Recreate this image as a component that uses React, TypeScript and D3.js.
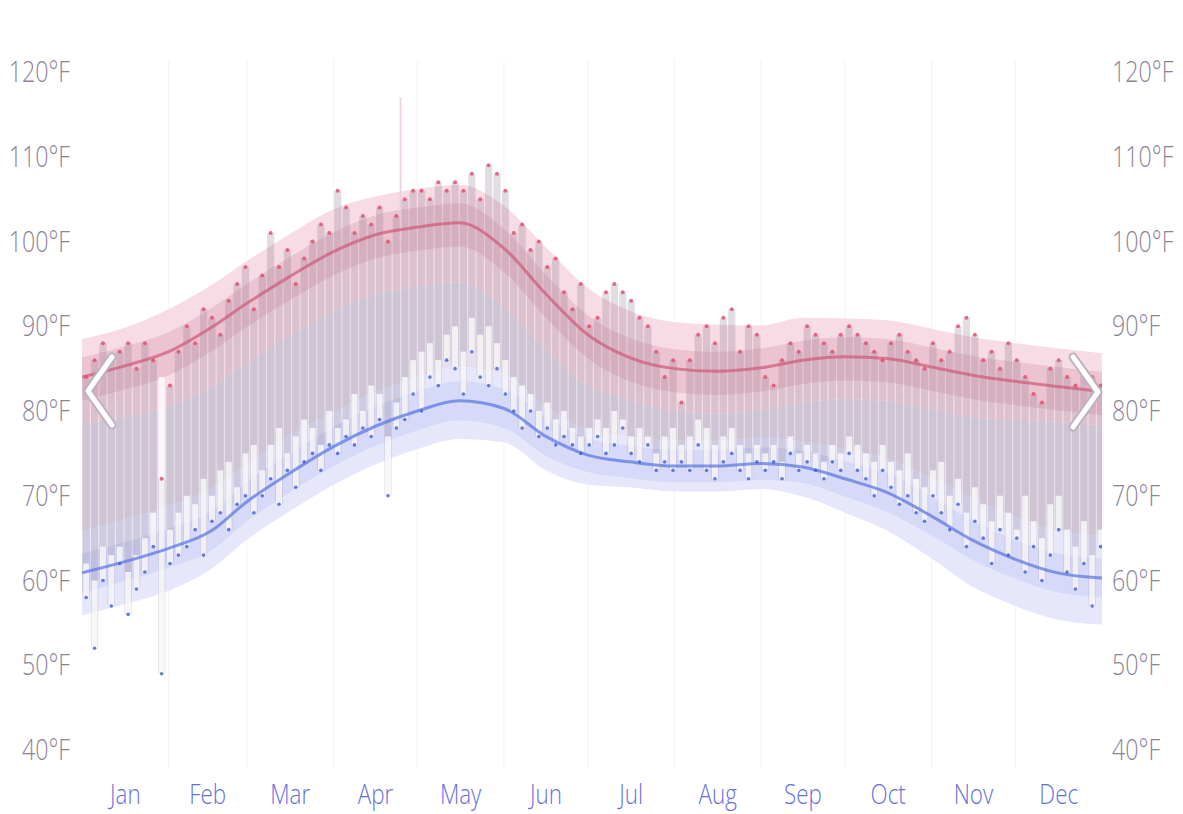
import React from 'react';
import * as d3 from 'd3';

const MONTHS = ['Jan', 'Feb', 'Mar', 'Apr', 'May', 'Jun', 'Jul', 'Aug', 'Sep', 'Oct', 'Nov', 'Dec'];
const MONTH_STARTS = [0, 31, 59, 90, 120, 151, 181, 212, 243, 273, 304, 334, 365];
const TEMP_TICKS = [40, 50, 60, 70, 80, 90, 100, 110, 120];

const SAMPLE_DAYS = [0, 15, 31, 46, 59, 74, 90, 105, 120, 135, 151, 166, 181, 196, 212, 227, 243, 258, 273, 288, 304, 319, 334, 349, 365];
const HIGH_MEAN = [84.0, 85.3, 87.0, 89.8, 92.7, 95.8, 98.8, 100.8, 101.7, 102.2, 99.2, 93.8, 89.0, 86.3, 85.0, 84.7, 85.1, 86.0, 86.4, 86.2, 85.2, 84.2, 83.5, 82.9, 82.3];
const HIGH_P90 = [88.5, 89.8, 92.0, 94.8, 97.7, 100.8, 103.8, 105.3, 106.2, 106.7, 104.2, 99.3, 94.5, 91.8, 90.5, 90.2, 90.1, 91.0, 90.9, 90.7, 89.7, 88.7, 88.0, 87.4, 86.8];
const HIGH_P75 = [86.3, 87.6, 89.3, 92.1, 95.0, 98.1, 101.1, 103.1, 104.0, 104.5, 101.5, 96.1, 91.3, 88.6, 87.3, 87.0, 87.4, 88.3, 88.7, 88.5, 87.5, 86.5, 85.8, 85.2, 84.6];
const HIGH_P25 = [81.2, 82.5, 84.2, 87.0, 89.9, 93.0, 96.0, 98.0, 98.9, 99.4, 96.4, 91.0, 86.2, 83.5, 82.2, 81.9, 82.3, 83.2, 83.6, 83.4, 82.4, 81.4, 80.7, 80.1, 79.5];
const HIGH_P10 = [78.5, 79.3, 80.5, 82.8, 85.7, 88.8, 91.8, 93.8, 94.7, 95.2, 92.2, 87.3, 83.0, 81.3, 80.0, 79.7, 80.1, 81.0, 81.4, 81.2, 80.2, 79.2, 79.0, 78.7, 78.3];
const LOW_MEAN = [60.9, 62.2, 63.8, 65.8, 69.3, 72.6, 75.8, 78.2, 80.0, 81.2, 80.3, 77.0, 74.8, 74.0, 73.5, 73.5, 73.8, 73.4, 72.0, 70.4, 67.6, 64.7, 62.5, 60.9, 60.3];
const LOW_P90 = [65.9, 67.2, 68.8, 70.8, 73.8, 77.1, 79.8, 82.2, 84.0, 85.2, 84.3, 80.5, 77.8, 77.0, 76.5, 76.5, 76.8, 76.4, 75.5, 74.4, 72.1, 69.7, 67.5, 65.9, 65.3];
const LOW_P75 = [63.2, 64.5, 66.1, 68.1, 71.6, 74.9, 78.1, 80.5, 82.3, 83.5, 82.6, 79.3, 76.8, 75.9, 75.4, 75.4, 75.7, 75.3, 74.1, 72.7, 69.9, 67.0, 64.8, 63.2, 62.6];
const LOW_P25 = [58.6, 59.9, 61.5, 63.5, 67.0, 70.3, 73.5, 75.9, 77.7, 78.9, 78.0, 74.7, 72.8, 72.1, 71.6, 71.6, 71.9, 71.5, 69.9, 68.1, 65.3, 62.4, 60.2, 58.6, 58.0];
const LOW_P10 = [55.9, 57.2, 58.8, 61.3, 64.8, 68.1, 71.3, 73.7, 75.5, 76.7, 76.3, 73.0, 71.3, 71.0, 70.5, 70.5, 70.8, 69.9, 68.0, 65.9, 62.6, 59.2, 57.0, 55.4, 54.8];

// observed values, one entry every 3 days
const DAILY_HIGH = [
  84, 86, 88, 86, 87, 88, 85, 88, 86, 72, 83,
  87, 90, 88, 92, 91, 89, 93, 95, 97, 92,
  96, 101, 97, 99, 95, 98, 100, 102, 101, 106,
  104, 101, 103, 102, 104, 100, 103, 105, 106, 106,
  105, 107, 106, 107, 106, 108, 105, 109, 108, 106,
  101, 102, 99, 100, 97, 98, 94, 92, 95, 90,
  91, 94, 95, 94, 93, 91, 90, 87, 84, 86,
  81, 86, 89, 90, 88, 91, 92, 87, 90, 89,
  84, 83, 86, 88, 87, 90, 89, 88, 87, 89,
  90, 89, 88, 87, 86, 88, 89, 87, 86, 85,
  88, 86, 87, 90, 91, 89, 86, 87, 85, 88, 86,
  84, 82, 81, 85, 86, 84, 83, 85, 84, 83,
];
const DAILY_LOW = [
  58, 52, 60, 57, 62, 56, 59, 61, 64, 49, 62,
  63, 64, 66, 63, 67, 68, 66, 69, 70, 68,
  70, 72, 69, 73, 71, 74, 75, 73, 76, 75,
  77, 76, 78, 77, 79, 70, 78, 79, 82, 80,
  84, 83, 86, 85, 82, 87, 84, 83, 85, 82,
  80, 78, 80, 77, 78, 76, 77, 76, 75, 76,
  77, 75, 76, 78, 75, 74, 76, 73, 74, 73,
  74, 73, 76, 73, 72, 74, 75, 73, 72, 74,
  73, 74, 72, 75, 73, 74, 73, 72, 74, 73,
  75, 73, 72, 70, 73, 71, 69, 70, 68, 67,
  70, 68, 66, 69, 64, 67, 65, 62, 66, 63, 65,
  61, 64, 60, 63, 66, 61, 59, 62, 57, 64,
];
const DAILY_LIGHT_TOP = [
  62, 60, 64, 63, 64, 61, 63, 65, 68, 84, 66,
  68, 70, 69, 72, 70, 73, 74, 71, 75, 76,
  73, 76, 78, 75, 77, 79, 78, 76, 80, 78,
  79, 82, 80, 83, 82, 77, 81, 84, 86, 87,
  88, 86, 89, 90, 87, 91, 89, 90, 88, 86,
  84, 83, 82, 80, 81, 79, 80, 78, 77, 78,
  79, 78, 80, 79, 77, 78, 77, 75, 77, 78,
  76, 77, 79, 78, 76, 77, 78, 76, 75, 76,
  75, 76, 74, 77, 75, 76, 75, 74, 76, 75,
  77, 76, 75, 74, 76, 74, 73, 75, 72, 71,
  73, 74, 70, 72, 68, 71, 69, 67, 70, 68, 66,
  70, 67, 65, 69, 70, 66, 64, 67, 63, 66,
];
// isolated extreme reading (day of year, temperature)
const SPIKE_DAYS = [114];
const SPIKE_TEMPS = [117];

const W = 1183;
const H = 814;
const x = d3.scaleLinear().domain([0, 365]).range([82, 1102]);
const y = d3.scaleLinear().domain([40, 120]).range([750, 72]);

function bandPath(lo: number[], hi: number[]) {
  return d3
    .area<number>()
    .x((d) => x(d))
    .y0((_, i) => y(lo[i]))
    .y1((_, i) => y(hi[i]))
    .curve(d3.curveMonotoneX)(SAMPLE_DAYS) as string;
}
function linePath(v: number[]) {
  return d3
    .line<number>()
    .x((d) => x(d))
    .y((_, i) => y(v[i]))
    .curve(d3.curveMonotoneX)(SAMPLE_DAYS) as string;
}

const FONT = "'Open Sans', 'Noto Sans', sans-serif";

export default function App() {
  const step = 3;
  const barW = x(step) - x(0);
  return (
    <svg
      width={W}
      height={H}
      style={{ position: 'absolute', left: 0, top: 0, background: '#fff' }}
    >
      <defs>
        <clipPath id="plot">
          <rect x={x(0)} y={40} width={x(365) - x(0)} height={720} />
        </clipPath>
      </defs>
      {/* faint month grid */}
      {MONTH_STARTS.slice(1, 12).map((d) => (
        <line key={d} x1={x(d)} x2={x(d)} y1={60} y2={768} stroke="#f4f2f6" strokeWidth={1} />
      ))}
      <g clipPath="url(#plot)">
        {/* middle fill */}
        <path d={bandPath(LOW_P90, HIGH_P10)} fill="#e6dfec" />
        {/* high bands */}
        <path d={bandPath(HIGH_P10, HIGH_P90)} fill="#f7dce5" />
        <path d={bandPath(HIGH_P25, HIGH_P75)} fill="#ecc4d1" />
        {/* low bands */}
        <path d={bandPath(LOW_P10, LOW_P90)} fill="#e6e7fa" />
        <path d={bandPath(LOW_P25, LOW_P75)} fill="#d6d9f7" />
        {/* daily range bars */}
        {DAILY_HIGH.map((h, i) => (
          <rect
            key={'g' + i}
            x={x(i * step) + 0.6}
            width={barW - 1.2}
            y={y(h)}
            height={y(DAILY_LOW[i]) - y(h)}
            fill="#7a6680"
            opacity={0.22}
          />
        ))}
        {SPIKE_DAYS.map((d, i) => (
          <rect key={'s' + i} x={x(d) - 1} width={2} y={y(SPIKE_TEMPS[i])} height={y(100) - y(SPIKE_TEMPS[i])} fill="#e2ccd8" opacity={0.8} />
        ))}
        {DAILY_LIGHT_TOP.map((t, i) =>
          t > DAILY_LOW[i] ? (
            <rect
              key={'w' + i}
              x={x(i * step) + 1.2}
              width={barW - 2.4}
              y={y(t)}
              height={y(DAILY_LOW[i]) - y(t)}
              fill="#ffffff"
              opacity={0.75}
            />
          ) : null
        )}
        {/* mean lines */}
        <path d={linePath(HIGH_MEAN)} fill="none" stroke="#cf5878" strokeOpacity={0.7} strokeWidth={3} />
        <path d={linePath(LOW_MEAN)} fill="none" stroke="#5f7ae2" strokeOpacity={0.75} strokeWidth={3} />
        {/* dots */}
        {DAILY_HIGH.map((h, i) => (
          <circle key={'r' + i} cx={x(i * step + 1.5)} cy={y(h)} r={2} fill="#e2506f" opacity={0.85} />
        ))}
        {DAILY_LOW.map((l, i) => (
          <circle key={'b' + i} cx={x(i * step + 1.5)} cy={y(l)} r={1.8} fill="#3f5fd2" opacity={0.8} />
        ))}
      </g>
      {/* navigation chevrons */}
      <g fill="none" strokeLinecap="round" strokeLinejoin="round">
        <path d="M112,357 L88,391 L112,425" stroke="#bdb2be" strokeWidth={9} />
        <path d="M112,357 L88,391 L112,425" stroke="#ffffff" strokeWidth={5} />
        <path d="M1073,357 L1098,392 L1073,427" stroke="#bdb2be" strokeWidth={9} />
        <path d="M1073,357 L1098,392 L1073,427" stroke="#ffffff" strokeWidth={5} />
      </g>
      {/* y axis labels */}
      {TEMP_TICKS.map((t) => (
        <g key={t}>
          <text
            transform={`translate(70,${y(t) + 10}) scale(0.8,1)`}
            textAnchor="end"
            fontFamily={FONT}
            fontWeight={300}
            fontSize={29}
            fill="#8d8396"
          >
            {t}°F
          </text>
          <text
            transform={`translate(1112,${y(t) + 10}) scale(0.8,1)`}
            textAnchor="start"
            fontFamily={FONT}
            fontWeight={300}
            fontSize={29}
            fill="#8d8396"
          >
            {t}°F
          </text>
        </g>
      ))}
      {/* month labels */}
      {MONTHS.map((m, i) => (
        <text
          key={m}
          transform={`translate(${x((MONTH_STARTS[i] + MONTH_STARTS[i + 1]) / 2)},804) scale(0.8,1)`}
          textAnchor="middle"
          fontFamily={FONT}
          fontWeight={300}
          fontSize={28}
          fill="#6670dc"
        >
          {m}
        </text>
      ))}
    </svg>
  );
}
